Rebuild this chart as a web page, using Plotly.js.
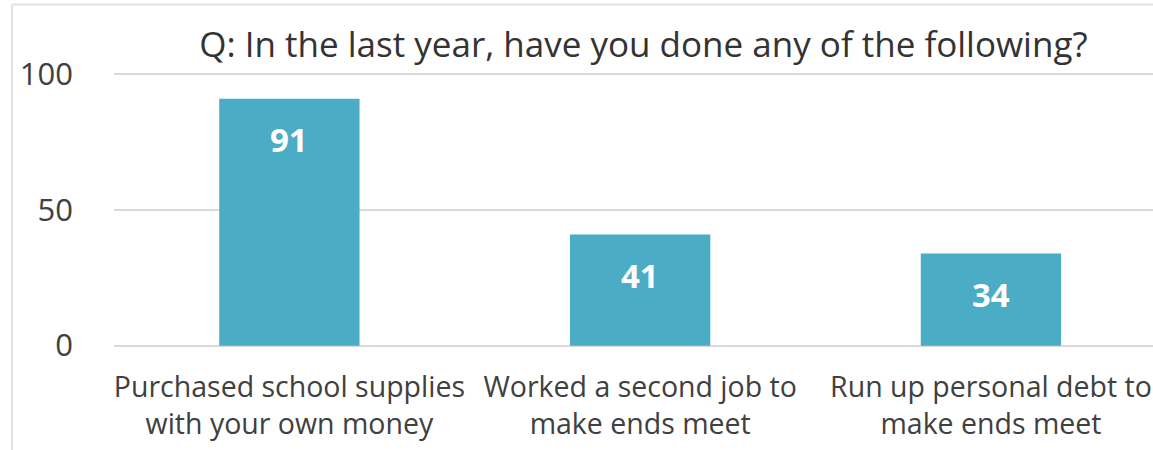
<!DOCTYPE html>
<html>
<head>
<meta charset="utf-8">
<script src="https://cdn.plot.ly/plotly-3.0.1.min.js"></script>
<style>html,body{margin:0;padding:0;background:#fff;}#chart{width:1153px;height:450px;}</style>
</head>
<body>
<div id="chart"></div>
<script>
const categories = [
  "Purchased school supplies<br>with your own money",
  "Worked a second job to<br>make ends meet",
  "Run up personal debt to<br>make ends meet"
];
const values = [91, 41, 34];
const yTicks = [0, 50, 100];
const titleText = "Q: In the last year, have you done any of the following?";

const FONT = "Open Sans, sans-serif";
const TXT = "#404040";

const trace = {
  type: "bar",
  x: categories,
  y: values,
  marker: {color: "#4BACC6"},
  hoverinfo: "none",
  width: 0.4
};

const annotations = categories.map((c, i) => ({
  x: c, y: values[i], xref: "x", yref: "y",
  text: "<b>" + values[i] + "</b>",
  showarrow: false, yanchor: "middle", yshift: -41,
  font: {family: FONT, size: 33, color: "#ffffff"}
}));

const layout = {
  width: 1153, height: 450,
  margin: {l: 114, r: 0, t: 73, b: 103},
  paper_bgcolor: "#ffffff", plot_bgcolor: "#ffffff",
  showlegend: false,
  title: {
    text: titleText,
    x: 0.558, xanchor: "center", xref: "container",
    y: 0.9, yanchor: "middle", yref: "container",
    font: {family: FONT, size: 35, color: "#333333"}
  },
  xaxis: {
    type: "category",
    range: [-0.5, 2.462],
    showgrid: false, zeroline: false, showline: false,
    ticks: "",
    tickangle: 0,
    ticklabelstandoff: 20,
    tickfont: {family: FONT, size: 28.5, color: TXT},
    fixedrange: true
  },
  yaxis: {
    range: [-0.5, 100.5],
    tickvals: yTicks,
    ticktext: yTicks.map(String),
    showgrid: true, gridcolor: "#d9d9d9", gridwidth: 2,
    zeroline: false, showline: false,
    ticks: "",
    ticklabelstandoff: 40,
    tickfont: {family: FONT, size: 31, color: TXT},
    fixedrange: true
  },
  annotations: annotations,
  shapes: [
    {type: "line", xref: "paper", yref: "paper", x0: -0.0982, x1: 1.0, y0: 1.25, y1: 1.25,
     line: {color: "#e3e3e3", width: 2}},
    {type: "line", xref: "paper", yref: "paper", x0: -0.0982, x1: -0.0982, y0: 1.25, y1: -0.4,
     line: {color: "#e3e3e3", width: 2}}
  ]
};

Plotly.newPlot("chart", [trace], layout, {displayModeBar: false, staticPlot: true});
</script>
</body>
</html>
